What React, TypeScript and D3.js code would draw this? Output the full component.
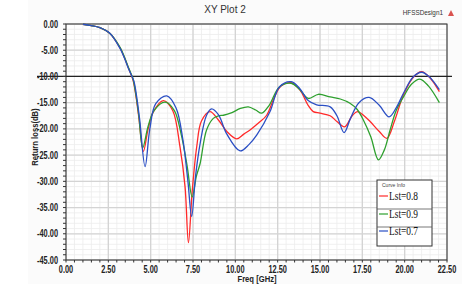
import React from "react";
import * as d3 from "d3";

const xTicks = [0, 2.5, 5, 7.5, 10, 12.5, 15, 17.5, 20, 22.5];
const yTicks = [0, -5, -10, -15, -20, -25, -30, -35, -40, -45];

const redFreq = [1.0, 1.5, 2.0, 2.6, 3.2, 3.45, 3.7, 3.95, 4.12, 4.3, 4.57, 4.85, 5.15, 5.75, 6.3, 6.73, 7.03, 7.23, 7.45, 7.72, 8.0, 8.5, 9.0, 9.5, 10.08, 10.5, 10.87, 11.4, 11.85, 12.3, 12.7, 13.3, 13.8, 14.3, 14.6, 15.0, 15.6, 16.0, 16.45, 16.9, 17.2, 17.6, 17.96, 18.5, 18.95, 19.4, 19.93, 20.5, 21.0, 21.5, 22.05];
const redVal = [-0.05, -0.3, -0.7, -1.8, -4.6, -6.4, -8.5, -10.6, -13.5, -17.8, -24.3, -20.0, -16.8, -14.6, -16.5, -23.4, -31.0, -41.7, -32.0, -23.4, -18.5, -16.7, -18.3, -20.5, -21.9, -21.0, -20.2, -18.8, -17.4, -14.0, -11.8, -11.2, -12.5, -15.5, -16.7, -17.0, -17.5, -18.6, -19.6, -17.5, -16.7, -17.5, -18.6, -20.5, -21.8, -18.5, -13.5, -10.2, -9.1, -10.3, -12.9];

const greenFreq = [1.0, 1.5, 2.0, 2.6, 3.2, 3.45, 3.7, 3.95, 4.12, 4.3, 4.53, 4.85, 5.2, 5.85, 6.4, 6.8, 7.15, 7.45, 7.7, 7.92, 8.3, 8.7, 9.0, 9.3, 9.8, 10.3, 10.77, 11.2, 11.56, 12.0, 12.6, 13.3, 13.8, 14.31, 14.9, 15.6, 16.2, 16.77, 17.2, 17.56, 18.0, 18.45, 18.8, 19.14, 19.5, 19.93, 20.4, 20.9, 21.4, 22.05];
const greenVal = [-0.05, -0.3, -0.7, -1.8, -4.5, -6.3, -8.4, -10.4, -13.3, -17.5, -23.6, -19.5, -16.5, -14.9, -16.5, -21.0, -27.0, -33.0, -29.0, -26.6, -20.2, -18.0, -17.5, -17.4, -16.9, -16.1, -15.8, -16.4, -17.0, -15.5, -12.0, -11.3, -12.5, -14.2, -13.4, -13.9, -14.3, -15.1, -16.3, -18.3, -21.5, -25.9, -24.0, -20.2, -16.5, -13.9, -11.5, -10.5, -11.8, -15.0];

const blueFreq = [1.0, 1.5, 2.0, 2.6, 3.2, 3.45, 3.7, 4.0, 4.17, 4.35, 4.67, 4.95, 5.3, 5.95, 6.5, 6.9, 7.2, 7.42, 7.65, 7.92, 8.3, 8.6, 9.0, 9.5, 10.28, 10.8, 11.26, 12.05, 12.6, 13.3, 13.8, 14.3, 14.8, 15.6, 16.0, 16.42, 16.8, 17.3, 17.9, 18.5, 19.08, 19.5, 19.93, 20.5, 21.0, 21.5, 22.05];
const blueVal = [-0.05, -0.3, -0.7, -1.8, -4.7, -6.5, -8.6, -10.8, -13.8, -18.2, -27.2, -20.0, -15.2, -13.7, -16.0, -22.0, -30.0, -36.7, -29.0, -22.8, -17.4, -16.2, -17.3, -21.0, -24.2, -23.0, -21.2, -16.7, -12.0, -11.0, -12.3, -14.6, -15.4, -15.8, -17.5, -20.7, -18.0, -15.0, -14.0, -15.5, -17.7, -16.0, -13.2, -10.1, -9.2, -10.2, -12.5];

const seriesNames = ["Lst=0.8", "Lst=0.9", "Lst=0.7"];
const seriesColors = ["#ff2a2a", "#2ea02e", "#2b4fc4"];

export default function App() {
  const left = 66, right = 447, top = 24, bottom = 260;
  const x = d3.scaleLinear().domain([0, 22.5]).range([left, right]);
  const y = d3.scaleLinear().domain([0, -45]).range([top, bottom]);

  const series = [
    { f: redFreq, v: redVal },
    { f: greenFreq, v: greenVal },
    { f: blueFreq, v: blueVal },
  ];
  const line = d3
    .line<[number, number]>()
    .x((d) => x(d[0]))
    .y((d) => y(d[1]))
    .curve(d3.curveCatmullRom.alpha(0.5));

  const minorX = d3.range(0, 22.51, 0.5);
  const minorY = d3.range(0, -45.01, -1);
  const tickFont = "'Liberation Sans', Arial, sans-serif";
  const sx = 0.74;

  return (
    <svg
      width={470}
      height={294}
      style={{ position: "absolute", left: 0, top: 0, background: "#ffffff" }}
    >
      <rect x={28} y={0} width={434} height={284} fill="#fbfbfb" />
      <rect x={left} y={top} width={right - left} height={bottom - top} fill="#ffffff" />
      {minorX.map((v, i) => (
        <line key={"mx" + i} x1={x(v)} x2={x(v)} y1={top} y2={bottom} stroke="#ececec" strokeWidth={0.8} />
      ))}
      {minorY.map((v, i) => (
        <line key={"my" + i} x1={left} x2={right} y1={y(v)} y2={y(v)} stroke="#ececec" strokeWidth={0.8} />
      ))}
      {xTicks.map((v, i) => (
        <line key={"gx" + i} x1={x(v)} x2={x(v)} y1={top} y2={bottom} stroke="#d4d4d4" strokeWidth={1.3} />
      ))}
      {yTicks.map((v, i) => (
        <line key={"gy" + i} x1={left} x2={right} y1={y(v)} y2={y(v)} stroke="#d4d4d4" strokeWidth={1.3} />
      ))}
      <rect x={left} y={top} width={right - left} height={bottom - top} fill="none" stroke="#333" strokeWidth={1} />
      <line x1={37} x2={452} y1={y(-10)} y2={y(-10)} stroke="#222" strokeWidth={1.2} />
      {minorY.map((v, i) => (
        <line key={"ty" + i} x1={left - 3} x2={left} y1={y(v)} y2={y(v)} stroke="#333" strokeWidth={1} />
      ))}
      {minorX.map((v, i) => (
        <line key={"tx" + i} x1={x(v)} x2={x(v)} y1={bottom} y2={bottom + 2.5} stroke="#333" strokeWidth={1} />
      ))}
      {yTicks.map((v, i) => (
        <text key={"yl" + i} transform={`translate(58,${y(v) + 3.5}) scale(${sx},1)`} textAnchor="end" fontSize={10} fontWeight="bold" fontFamily={tickFont} fill="#222">
          {v.toFixed(2)}
        </text>
      ))}
      {xTicks.map((v, i) => (
        <text key={"xl" + i} transform={`translate(${x(v)},${bottom + 13}) scale(${sx},1)`} textAnchor="middle" fontSize={10} fontWeight="bold" fontFamily={tickFont} fill="#222">
          {v.toFixed(2)}
        </text>
      ))}
      <text transform={`translate(257,282) scale(0.85,1)`} textAnchor="middle" fontSize={9} fontWeight="bold" fontFamily={tickFont} fill="#222">
        Freq [GHz]
      </text>
      <text transform={`translate(38,137) rotate(-90) scale(0.85,1)`} textAnchor="middle" fontSize={9} fontWeight="bold" fontFamily={tickFont} fill="#222">
        Return loss(dB)
      </text>
      <text x={225} y={13} textAnchor="middle" fontSize={10} fontFamily={tickFont} fill="#333">
        XY Plot 2
      </text>
      <text transform={`translate(443,15) scale(0.85,1)`} textAnchor="end" fontSize={7.5} fontFamily={tickFont} fill="#333">
        HFSSDesign1
      </text>
      <path d="M451,10 L454,16 L448,16 Z" fill="#d9534f" />
      {series.map((s, i) => (
        <path
          key={"s" + i}
          d={line(s.f.map((f, j) => [f, s.v[j]] as [number, number])) || ""}
          fill="none"
          stroke={seriesColors[i]}
          strokeWidth={1.3}
        />
      ))}
      <rect x={377} y={180} width={55} height={66} fill="#ffffff" stroke="#333" strokeWidth={1} />
      <text x={382} y={187} fontSize={5} fontFamily={tickFont} fill="#444">
        Curve Info
      </text>
      <line x1={377} x2={432} y1={209} y2={209} stroke="#555" strokeWidth={0.8} />
      <line x1={377} x2={432} y1={227} y2={227} stroke="#555" strokeWidth={0.8} />
      {seriesNames.map((n, i) => {
        const yy = [199, 217, 234][i];
        return (
          <g key={"lg" + i}>
            <line x1={379} x2={388} y1={yy - 3} y2={yy - 3} stroke={seriesColors[i]} strokeWidth={1.2} />
            <text x={389} y={yy + 1} fontSize={12} fontFamily="'Liberation Serif', 'Times New Roman', serif" fill="#111" textLength={29} lengthAdjust="spacingAndGlyphs">
              {n}
            </text>
          </g>
        );
      })}
    </svg>
  );
}
